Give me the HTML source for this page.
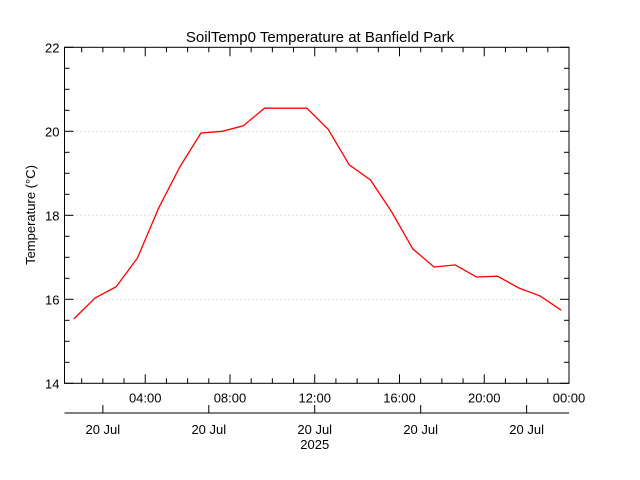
<!DOCTYPE html>
<html><head><meta charset="utf-8"><style>
body{margin:0;background:#fff;}
svg{display:block;font-family:"Liberation Sans",sans-serif;}
</style></head><body>
<svg id="chart" width="640" height="480" xmlns="http://www.w3.org/2000/svg">
<rect width="640" height="480" fill="#fff"/>
<text x="320" y="42" text-anchor="middle" font-size="15">SoilTemp0 Temperature at Banfield Park</text>
<text transform="translate(35,215) rotate(-90)" text-anchor="middle" font-size="13">Temperature (°C)</text>
<g id="grid"></g><g id="axes"></g><g id="series"></g>
</svg>
<script>
const hours = [0.63,1.63,2.63,3.63,4.63,5.63,6.63,7.63,8.63,9.63,10.63,11.63,12.63,13.63,14.63,15.63,16.63,17.63,18.63,19.63,20.63,21.63,22.63,23.63];
const temps = [15.53,16.03,16.3,16.98,18.17,19.15,19.96,20.0,20.13,20.55,20.55,20.55,20.05,19.2,18.84,18.08,17.2,16.77,16.82,16.53,16.55,16.27,16.08,15.74];
const yTicks = [14,16,18,20,22];
const xTickHours = [4,8,12,16,20,24];
const xTickLabels = ["04:00","08:00","12:00","16:00","20:00","00:00"];
const dateTickHours = [2,7,12,17,22];
const dateTickLabels = ["20 Jul","20 Jul","20 Jul","20 Jul","20 Jul"];

const L=64.5,R=569,T=47.3,B=383.3;
const xMin=0.19,xMax=24,yMin=14,yMax=22;
const X=h=>L+(h-xMin)/(xMax-xMin)*(R-L);
const Y=v=>B-(v-yMin)/(yMax-yMin)*(B-T);
const NS="http://www.w3.org/2000/svg";
function mk(tag,attrs,parent,txt){const e=document.createElementNS(NS,tag);for(const k in attrs)e.setAttribute(k,attrs[k]);if(txt!==undefined)e.textContent=txt;parent.appendChild(e);return e;}
const grid=document.getElementById('grid'),axes=document.getElementById('axes'),series=document.getElementById('series');

yTicks.forEach(v=>{
  if(v>yMin&&v<yMax){const g=mk('line',{x1:L,x2:R,y1:Y(v),y2:Y(v),stroke:'#bbb','stroke-dasharray':'1,3'},grid);
  
  }
  const t=mk('text',{x:L-5,y:Y(v)+5,'text-anchor':'end','font-size':13},axes,String(v));
  
  
});
for(let v=yMin;v<=yMax+1e-9;v+=0.5){
  const len=(Math.abs(v-Math.round(v/2)*2)<1e-9)?9:5;
  mk('line',{x1:L,x2:L+len,y1:Y(v),y2:Y(v),stroke:'#000'},axes);
  mk('line',{x1:R,x2:R-len,y1:Y(v),y2:Y(v),stroke:'#000'},axes);
}
for(let h=1;h<=24;h++){
  const len=(h%4===0)?9:5;
  mk('line',{x1:X(h),x2:X(h),y1:B,y2:B-len,stroke:'#000'},axes);
  mk('line',{x1:X(h),x2:X(h),y1:T,y2:T+len,stroke:'#000'},axes);
}
const frame=mk('rect',{x:L,y:T,width:R-L,height:B-T,fill:'none',stroke:'#000'},axes);


xTickHours.forEach((h,i)=>{
  const t=mk('text',{x:X(h),y:B+19,'text-anchor':'middle','font-size':13},axes,xTickLabels[i]);
  
  
});
const ax2Y=413;
const a2=mk('line',{x1:L,x2:R,y1:ax2Y,y2:ax2Y,stroke:'#000'},axes);


dateTickHours.forEach((h,i)=>{
  mk('line',{x1:X(h),x2:X(h),y1:ax2Y,y2:ax2Y-8,stroke:'#000'},axes);
  const t=mk('text',{x:X(h),y:ax2Y+21,'text-anchor':'middle','font-size':13},axes,dateTickLabels[i]);
  
  
});
const yr=mk('text',{x:X(12),y:ax2Y+36,'text-anchor':'middle','font-size':13},axes,'2025');



const pts=hours.map((h,i)=>X(h).toFixed(1)+','+Y(temps[i]).toFixed(1)).join(' ');
const line=mk('polyline',{points:pts,fill:'none',stroke:'#f00','stroke-width':1.3},series);


</script>
</body></html>
